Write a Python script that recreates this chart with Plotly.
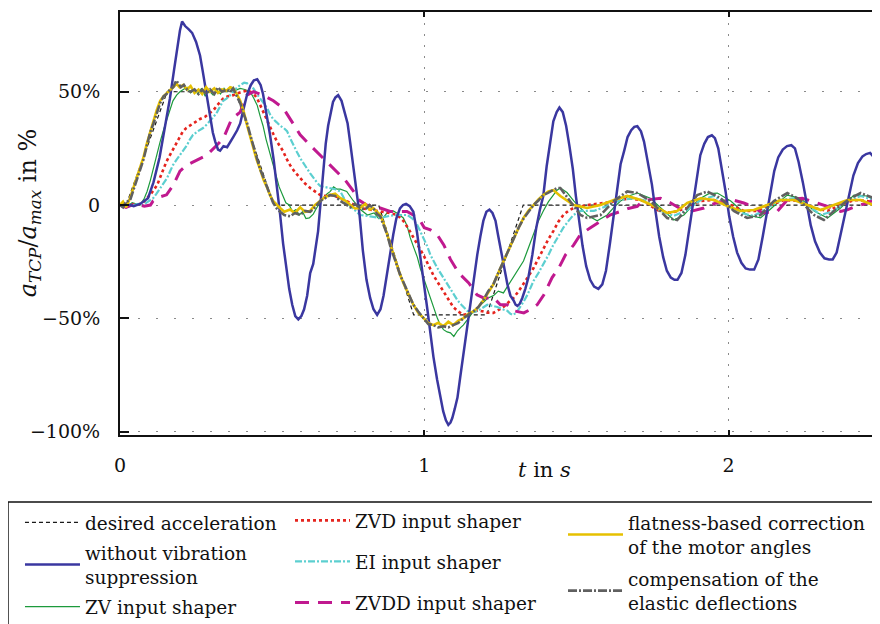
import plotly.graph_objects as go

# ---------------- data (time in s, acceleration in % of a_max) ----------------
desired_t = [0, 0.02, 0.155, 0.38, 0.505, 0.85, 0.965, 1.205, 1.325, 2.5]
desired_v = [0, 0, 50, 50, 0, 0, -48.5, -48.5, 0, 0]

without_t = [0.000, 0.020, 0.045, 0.066, 0.092, 0.110, 0.130, 0.148, 0.164, 0.178, 0.188, 0.197, 0.204, 0.214,
             0.226, 0.237, 0.250, 0.263, 0.272, 0.280, 0.288, 0.296, 0.305, 0.313, 0.322, 0.329, 0.340, 0.352,
             0.362, 0.372, 0.385, 0.395, 0.407, 0.418, 0.430, 0.440, 0.451, 0.462, 0.470, 0.481, 0.493, 0.505,
             0.516, 0.526, 0.536, 0.546, 0.556, 0.566, 0.576, 0.586, 0.596, 0.605, 0.615, 0.625, 0.635, 0.651,
             0.660, 0.668, 0.676, 0.684, 0.692, 0.700, 0.708, 0.717, 0.728, 0.738, 0.748, 0.757, 0.767, 0.777,
             0.787, 0.798, 0.810, 0.822, 0.833, 0.845, 0.856, 0.866, 0.877, 0.888, 0.898, 0.908, 0.920, 0.930,
             0.940, 0.952, 0.964, 0.976, 0.987, 0.998, 1.010, 1.020, 1.030, 1.042, 1.053, 1.062, 1.071, 1.079,
             1.086, 1.092, 1.100, 1.109, 1.118, 1.128, 1.139, 1.151, 1.162, 1.174, 1.184, 1.194, 1.204, 1.214,
             1.224, 1.234, 1.242, 1.250, 1.262, 1.273, 1.283, 1.293, 1.300, 1.306, 1.314, 1.322, 1.332, 1.342,
             1.355, 1.368, 1.380, 1.391, 1.402, 1.414, 1.424, 1.435, 1.444, 1.455, 1.466, 1.477, 1.488, 1.498,
             1.508, 1.520, 1.532, 1.545, 1.558, 1.572, 1.585, 1.597, 1.610, 1.622, 1.633, 1.645, 1.657, 1.668,
             1.680, 1.690, 1.700, 1.712, 1.722, 1.735, 1.748, 1.760, 1.772, 1.785, 1.797, 1.810, 1.822, 1.832,
             1.845, 1.858, 1.870, 1.882, 1.895, 1.907, 1.920, 1.932, 1.945, 1.955, 1.966, 1.978, 1.990, 2.002,
             2.015, 2.028, 2.042, 2.056, 2.070, 2.084, 2.098, 2.112, 2.125, 2.138, 2.150, 2.163, 2.178, 2.192,
             2.206, 2.218, 2.230, 2.244, 2.258, 2.270, 2.284, 2.300, 2.315, 2.330, 2.342, 2.355, 2.368, 2.382,
             2.396, 2.410, 2.425, 2.440, 2.452, 2.465, 2.478, 2.490, 2.500]
without_v = [0, 0.5, -0.5, 0.5, 3, 10, 21, 34, 47, 60, 69, 77, 81, 79,
             77.5, 76, 72, 66, 59, 52, 45, 38, 32, 28, 24.5, 24, 26, 25.5,
             28, 30, 33, 36, 43, 49, 53, 55, 55.5, 53, 49, 41, 31, 20,
             8, -4, -17, -28, -37, -44, -49, -50.5, -49, -46, -40, -30, -26, -11.5,
             2, 17, 27, 35, 41, 45.5, 47.5, 48.5, 46, 41, 36, 27, 17, 7,
             -4, -20, -33, -41, -46, -48.5, -46, -40, -30, -21, -13, -6, -1.5, 0,
             0.5, -0.5, -3, -12, -22, -34, -46, -57, -67, -77, -85, -91, -95, -97,
             -96, -94, -90, -85, -76, -66, -55, -44, -33, -22, -14, -7, -3, -2,
             -3.5, -7, -13, -19, -27, -35, -40, -42, -44, -44.5, -43.5, -41, -37, -32,
             -22, -10, -2, 4, 17, 29, 37, 41, 43, 41, 35, 26, 16, 4,
             -7, -18, -27, -33, -36, -37, -35, -29, -17, -5, 8, 18, 24, 30,
             33, 34.5, 34.8, 32.5, 28, 19, 9, -3, -14, -23, -29, -32, -33, -33,
             -30, -22, -11, 1, 13, 22, 27, 30, 30.8, 29.5, 25, 16, 6, -5,
             -14, -21, -25.5, -28, -28.5, -28.5, -24, -14, -4, 7, 15, 21, 24.5, 26,
             26.4, 25, 19, 10, 0, -9, -16, -21, -23.5, -24, -24, -21, -13, -4,
             5, 13, 18.5, 21.5, 22.5, 23, 21, 18, 15]

zv_t = [0.000, 0.020, 0.040, 0.066, 0.080, 0.089, 0.100, 0.109, 0.120, 0.132, 0.145, 0.155, 0.165, 0.174,
        0.186, 0.197, 0.208, 0.220, 0.232, 0.244, 0.256, 0.268, 0.280, 0.292, 0.306, 0.318, 0.330, 0.342,
        0.352, 0.365, 0.378, 0.395, 0.410, 0.428, 0.440, 0.451, 0.461, 0.470, 0.480, 0.490, 0.502, 0.513,
        0.523, 0.533, 0.545, 0.556, 0.567, 0.578, 0.589, 0.600, 0.611, 0.622, 0.635, 0.646, 0.658, 0.670,
        0.681, 0.691, 0.702, 0.713, 0.724, 0.745, 0.766, 0.790, 0.813, 0.835, 0.850, 0.865, 0.880, 0.898,
        0.915, 0.931, 0.943, 0.954, 0.966, 0.977, 0.987, 0.997, 1.008, 1.020, 1.031, 1.043, 1.053, 1.063,
        1.075, 1.086, 1.097, 1.109, 1.120, 1.128, 1.145, 1.161, 1.178, 1.194, 1.210, 1.227, 1.243, 1.260,
        1.277, 1.293, 1.310, 1.326, 1.342, 1.359, 1.375, 1.391, 1.408, 1.424, 1.436, 1.447, 1.469, 1.491,
        1.513, 1.535, 1.568, 1.601, 1.623, 1.645, 1.672, 1.700, 1.743, 1.787, 1.820, 1.853, 1.880, 1.908,
        1.935, 1.963, 2.007, 2.035, 2.061, 2.105, 2.149, 2.193, 2.237, 2.281, 2.325, 2.368, 2.412, 2.456, 2.500]
zv_v = [0, -1, 1, 0, 3, 6, 11, 16, 22, 28, 34, 38, 43, 46,
        48.5, 50, 51, 52, 49.5, 51, 49, 51.5, 48, 50.5, 48.5, 51, 49, 51.5,
        50, 52, 50.5, 51.5, 51, 50, 47, 44, 39, 35, 29, 23.8, 18, 13,
        8, 4.4, 1, 0, -3, -2, -4.4, -3, -6, -5.7, -4, -1.3, 1, 3.5,
        5, 6, 8, 7, 7, 6, 2, -2, -4.4, -3.5, -6, -5.7, -3, -2.6,
        -4, -5.7, -9, -14.5, -19, -23, -28, -32, -37, -41, -46, -50, -53, -55,
        -56, -56.4, -58, -55.5, -54, -53, -50, -47, -45, -43, -41, -40, -38, -38.8,
        -35, -32, -28, -24.7, -19, -13, -7, -2.6, 1.5, 4.4, 6.5, 7.5, 5.5, 1.8,
        -1.5, -4.4, -7, -4.4, -1, 1.8, 4, 5.3, 3, -2.6, -6.6, -4.4, -0.5, 3,
        5, 5.3, 1.8, -1.5, -4.4, -5.7, -0.4, 4.4, 3, -2.6, -5.7, -1.3, 4.4, 4, 0]

zvd_t = [0.000, 0.030, 0.056, 0.075, 0.089, 0.105, 0.122, 0.131, 0.141, 0.152, 0.164, 0.176, 0.188, 0.197,
         0.207, 0.218, 0.230, 0.245, 0.263, 0.280, 0.296, 0.308, 0.319, 0.329, 0.339, 0.355, 0.372, 0.390,
         0.405, 0.418, 0.428, 0.440, 0.451, 0.461, 0.470, 0.481, 0.493, 0.505, 0.516, 0.526, 0.536, 0.547,
         0.559, 0.575, 0.592, 0.608, 0.625, 0.640, 0.658, 0.675, 0.691, 0.707, 0.724, 0.757, 0.789, 0.822,
         0.855, 0.885, 0.911, 0.921, 0.931, 0.948, 0.964, 0.980, 0.997, 1.013, 1.030, 1.046, 1.063, 1.079,
         1.095, 1.112, 1.128, 1.145, 1.161, 1.178, 1.194, 1.210, 1.227, 1.243, 1.260, 1.276, 1.293, 1.310,
         1.326, 1.342, 1.359, 1.375, 1.391, 1.408, 1.424, 1.440, 1.457, 1.474, 1.491, 1.535, 1.590, 1.634,
         1.678, 1.721, 1.765, 1.809, 1.864, 1.908, 1.952, 2.007, 2.050, 2.094, 2.138, 2.182, 2.237, 2.281,
         2.325, 2.368, 2.412, 2.456, 2.500]
zvd_v = [0, 0.5, 0, 1, 3, 5.5, 8.8, 12, 16, 19, 22, 25, 28, 30.5,
         32.6, 34, 35, 36.5, 38, 39, 40.5, 42, 44, 45.5, 47, 48, 48.5, 49.5,
         50, 50.5, 50, 49, 47, 44, 41, 37.5, 34, 31, 28, 26, 23.8, 20.5,
         17.6, 14.5, 11.9, 9.5, 7.5, 6, 4.4, 4, 4.4, 4, 3, 1, -1.3, -2,
         -2.6, -3.5, -4.4, -5.5, -7, -10.5, -14.5, -18, -22, -26.5, -31, -34.5, -38, -41.5,
         -45, -47, -48.5, -48, -47, -46.5, -47, -47.5, -47.6, -46.5, -45, -43, -41, -38,
         -35, -31.5, -27.8, -23.5, -19, -15, -11.5, -7.5, -4.4, -2.5, -1.3, 0, 0.9, 1.8,
         3, 1.8, -2.2, -3.5, -1.3, 1.8, 2.2, 0, -2.6, -2.6, 0, 2.2, 1.8, -1.3,
         -2.6, 0, 2.2, 1.8, 0]

ei_t = [0.000, 0.030, 0.060, 0.076, 0.092, 0.109, 0.120, 0.132, 0.143, 0.155, 0.165, 0.174, 0.186, 0.197,
        0.208, 0.220, 0.230, 0.240, 0.255, 0.273, 0.285, 0.296, 0.308, 0.319, 0.329, 0.339, 0.350, 0.362,
        0.378, 0.395, 0.408, 0.418, 0.428, 0.438, 0.450, 0.461, 0.472, 0.484, 0.493, 0.503, 0.515, 0.526,
        0.538, 0.549, 0.559, 0.569, 0.581, 0.592, 0.604, 0.615, 0.625, 0.635, 0.647, 0.658, 0.675, 0.691,
        0.707, 0.724, 0.740, 0.757, 0.789, 0.822, 0.855, 0.885, 0.911, 0.944, 0.961, 0.977, 0.987, 0.997,
        1.009, 1.020, 1.031, 1.043, 1.060, 1.076, 1.092, 1.109, 1.125, 1.141, 1.158, 1.174, 1.190, 1.207,
        1.224, 1.240, 1.257, 1.273, 1.283, 1.293, 1.305, 1.316, 1.327, 1.339, 1.349, 1.359, 1.375, 1.391,
        1.408, 1.424, 1.440, 1.457, 1.474, 1.490, 1.513, 1.557, 1.601, 1.645, 1.689, 1.732, 1.776, 1.820,
        1.864, 1.908, 1.952, 1.996, 2.039, 2.083, 2.127, 2.171, 2.215, 2.259, 2.303, 2.346, 2.390, 2.434,
        2.478, 2.500]
ei_v = [0, -0.5, 0.5, 0, 1.5, 3, 5, 7.5, 9.5, 12, 15, 17.6, 20, 22,
        24, 26.4, 29, 31, 32.5, 34, 35.5, 37, 39, 41, 43.5, 46, 47, 48.5,
        51, 53, 54, 53.7, 52.5, 51.5, 49, 47, 45, 42.7, 40, 38, 36.5, 35,
        34, 32.6, 29.5, 26.4, 23.5, 20.7, 18, 16, 14, 12, 10, 8.4, 8, 7.5,
        7, 6, 2, -0.5, -4.4, -5, -5.7, -4.8, -4.4, -4.4, -6, -8.8, -11.5, -14.5,
        -18, -22, -25, -27.8, -31.5, -35, -38.5, -42, -44.5, -46.7, -47.5, -46.7, -45.5, -44,
        -44.5, -45, -46, -46.7, -48, -48.5, -47, -45, -42.5, -39.6, -36.5, -33.5, -30, -26.4,
        -22, -17.6, -14, -10, -7, -4.4, -2.6, -2.6, -0.4, 2.2, 3, 1.8, -2.6, -4.8,
        -2.2, 2.2, 4, 0, -3.5, -4.8, -1.3, 2.2, 3, 0, -4.4, -2.6, 1.8, 4,
        2.2, 0]

zvdd_t = [0.000, 0.020, 0.050, 0.080, 0.100, 0.109, 0.130, 0.153, 0.175, 0.197, 0.219, 0.241, 0.263, 0.285,
          0.318, 0.340, 0.367, 0.395, 0.417, 0.439, 0.471, 0.504, 0.537, 0.559, 0.592, 0.625, 0.658, 0.691,
          0.724, 0.740, 0.767, 0.784, 0.810, 0.855, 0.888, 0.910, 0.943, 0.965, 0.987, 1.000, 1.020, 1.042,
          1.064, 1.086, 1.113, 1.146, 1.173, 1.195, 1.228, 1.250, 1.272, 1.294, 1.327, 1.350, 1.371, 1.393,
          1.420, 1.442, 1.464, 1.491, 1.513, 1.546, 1.580, 1.612, 1.645, 1.670, 1.700, 1.716, 1.745, 1.776,
          1.810, 1.840, 1.875, 1.919, 1.950, 1.979, 2.012, 2.050, 2.078, 2.111, 2.160, 2.193, 2.242, 2.292,
          2.325, 2.368, 2.390, 2.420, 2.456, 2.478, 2.500]
zvdd_v = [0, -1, 0.5, -0.5, 0, 1.8, 3.5, 4.5, 8.8, 15, 17.6, 19, 20.7, 22,
          26.4, 29.5, 38, 41, 48.5, 50, 48.5, 46, 42.7, 38, 31, 26.4, 22, 17.6,
          13, 11, 6.2, 2.3, 0, -1.3, -2.8, -2.8, -2.8, -4.5, -7, -10, -11, -13,
          -17.6, -24, -30, -34.4, -39.6, -41, -41, -44, -44, -46.7, -47.6, -46, -44, -39.6,
          -32, -27.8, -22, -17.6, -13, -10, -7, -4.3, -2.8, -1.5, -0.6, 1.6, 2.5, 3,
          0.9, -1.5, -2.8, -1.3, 0.5, 1.6, 2.3, 0.9, -0.6, -3.5, -2.8, 2.3, 3, 0.9,
          -0.6, -2.8, -2.1, -0.5, 0.9, 2.3, 2.5]

flat_t = [0.000, 0.010, 0.020, 0.033, 0.045, 0.055, 0.066, 0.077, 0.088, 0.099, 0.110, 0.121, 0.132, 0.143,
          0.153, 0.164, 0.175, 0.186, 0.196, 0.208, 0.220, 0.232, 0.245, 0.258, 0.270, 0.283, 0.296, 0.310,
          0.322, 0.335, 0.350, 0.362, 0.372, 0.384, 0.395, 0.407, 0.418, 0.428, 0.438, 0.449, 0.460, 0.472,
          0.484, 0.494, 0.503, 0.515, 0.526, 0.540, 0.559, 0.575, 0.592, 0.608, 0.625, 0.641, 0.658, 0.674,
          0.690, 0.707, 0.724, 0.740, 0.757, 0.772, 0.789, 0.806, 0.820, 0.832, 0.845, 0.855, 0.866, 0.878,
          0.888, 0.898, 0.910, 0.921, 0.933, 0.944, 0.954, 0.964, 0.980, 0.997, 1.013, 1.030, 1.046, 1.063,
          1.079, 1.095, 1.112, 1.128, 1.145, 1.161, 1.178, 1.194, 1.210, 1.227, 1.243, 1.260, 1.276, 1.293,
          1.310, 1.326, 1.342, 1.359, 1.375, 1.391, 1.408, 1.424, 1.447, 1.491, 1.535, 1.579, 1.623, 1.667,
          1.711, 1.754, 1.798, 1.831, 1.864, 1.908, 1.952, 1.996, 2.039, 2.083, 2.127, 2.171, 2.215, 2.259,
          2.303, 2.346, 2.390, 2.434, 2.478, 2.500]
flat_v = [0, 1.5, -1, 3, 8, 12, 16, 21, 27, 32.6, 37, 42, 46, 48,
          49.5, 50.7, 52, 53.5, 52, 53, 51, 52.5, 49.5, 51, 49, 52, 50, 51.5,
          49.5, 51, 50.5, 52, 51.5, 49, 46, 41, 35, 30, 25, 20, 16, 11,
          7.5, 4, 1.8, 0, -1.3, -3, -2, -3.5, -1, -3, -2.6, 0, 1.8, 3.5,
          4.4, 5, 3, 2, 0, -1.5, -1.3, 0.5, -2, -1.3, -3, -4.4, -8, -13,
          -17.5, -22, -27, -31, -35, -38, -41, -44, -47.5, -50, -52, -53, -52, -53.5,
          -51.5, -53, -51, -50, -48, -47, -45, -42, -38.5, -35, -30, -25, -20, -14.5,
          -10, -5.7, -2.5, 0, 2.5, 4.4, 6, 6.6, 4, 0, -1.3, 0, 2.2, 4,
          2.2, -0.4, -3.5, -2.6, 0.9, 3, 2.2, -0.4, -2.6, -2.2, 0, 2.2, 2.2, 0,
          -2.2, 0, 2.2, 2.2, 0, -1.3]

comp_t = [0.000, 0.010, 0.020, 0.033, 0.045, 0.055, 0.066, 0.077, 0.088, 0.099, 0.110, 0.121, 0.132, 0.143,
          0.153, 0.164, 0.175, 0.185, 0.191, 0.200, 0.210, 0.220, 0.232, 0.245, 0.258, 0.270, 0.283, 0.296,
          0.310, 0.322, 0.335, 0.350, 0.362, 0.372, 0.384, 0.395, 0.407, 0.418, 0.428, 0.438, 0.449, 0.460,
          0.472, 0.484, 0.494, 0.503, 0.515, 0.526, 0.540, 0.559, 0.575, 0.592, 0.608, 0.625, 0.641, 0.658,
          0.674, 0.690, 0.707, 0.724, 0.740, 0.757, 0.772, 0.789, 0.806, 0.820, 0.832, 0.845, 0.855, 0.866,
          0.878, 0.888, 0.898, 0.910, 0.921, 0.933, 0.944, 0.954, 0.964, 0.980, 0.997, 1.013, 1.030, 1.046,
          1.063, 1.079, 1.095, 1.112, 1.128, 1.145, 1.161, 1.178, 1.194, 1.210, 1.227, 1.243, 1.260, 1.276,
          1.293, 1.310, 1.326, 1.342, 1.359, 1.375, 1.391, 1.408, 1.424, 1.436, 1.447, 1.480, 1.513, 1.535,
          1.579, 1.623, 1.667, 1.700, 1.743, 1.798, 1.831, 1.864, 1.897, 1.930, 1.974, 2.017, 2.061, 2.105,
          2.149, 2.193, 2.226, 2.281, 2.313, 2.357, 2.401, 2.434, 2.478, 2.500]
comp_v = [0, -1, 1.5, 2, 7, 11, 16, 20, 26, 32, 36, 41, 45, 48,
          49, 51, 52, 55, 54, 52, 53, 51, 50, 51, 49, 51, 49, 51,
          49, 52, 50, 51, 50, 51.5, 48, 45, 40, 36, 31, 26, 21, 16,
          12, 8, 4, 1, -1.5, -3, -4.4, -5, -3.5, -4.4, -2.6, -3, -1, 1.8,
          3, 4.4, 4, 1.8, 0.5, -1, 0.5, -1.3, -2, 0, -1.3, -4, -5, -8.5,
          -13, -18, -22, -26, -31, -34.5, -38, -41, -44, -47, -50, -52.5, -53, -54,
          -53.5, -54, -53, -52, -50, -48.5, -47, -45, -42, -38, -35, -30, -25, -19.5,
          -14.5, -10, -6, -3, 0, 2, 4.4, 5.5, 6.6, 7.5, 7.5, 1.8, -4.4, -5.7,
          -4.4, 1.8, 6, 5.3, 1.8, -5.7, -6.6, -1.3, 4.4, 6, 3, -2.6, -5.7, -4.4,
          1.8, 5.3, 3, -4.4, -6.6, -1.3, 3, 5.3, 3, 1.8]

y_tick_vals = [-100, -50, 0, 50]
y_tick_text = ["\u2212100%", "\u221250%", "0", "50%"]
x_tick_vals = [0, 1, 2]
x_tick_text = ["0", "1", "2"]

# ---------------- figure ----------------
SERIF = "DejaVu Serif"
fig = go.Figure()

series = [
    # name, t, v, color, width, dash, legend, rank
    ("desired acceleration", desired_t, desired_v, "#1a1a1a", 1.2, "4px,3px", "legend", 1),
    ("ZV input shaper", zv_t, zv_v, "#1c9a3c", 1.2, "solid", "legend", 3),
    ("ZVD input shaper", zvd_t, zvd_v, "#e5241e", 2.6, "3px,3px", "legend2", 1),
    ("EI input shaper", ei_t, ei_v, "#5ccfd0", 2.2, "7px,2px,2px,2px", "legend2", 2),
    ("ZVDD input shaper", zvdd_t, zvdd_v, "#c0198f", 3.0, "14px,9px", "legend2", 3),
    ("without vibration<br>suppression", without_t, without_v, "#3a37a0", 2.5, "solid", "legend", 2),
    ("flatness-based correction<br>of the motor angles", flat_t, flat_v, "#e6c000", 2.6, "solid", "legend3", 1),
    ("compensation of the<br>elastic deflections", comp_t, comp_v, "#606060", 2.6, "9px,2px,2px,2px", "legend3", 2),
]
for name, t, v, col, w, dash, lg, rank in series:
    fig.add_trace(go.Scatter(x=t, y=v, mode="lines", name=name, legend=lg, legendrank=rank,
                             legendgroup=name,
                             line=dict(color=col, width=w, dash=dash), hoverinfo="skip"))

# a one-point helper trace so that the right-hand tick axis is drawn (a single point draws no line)
fig.add_trace(go.Scatter(x=[0], y=[0], yaxis="y2", mode="lines", showlegend=False,
                         line=dict(width=0), hoverinfo="skip"))

LEG_FONT = dict(family=SERIF, size=18.5, color="#111")


def leg(x, y, gap):
    return dict(orientation="v", x=x, y=y, xanchor="left", yanchor="top",
                itemwidth=55, font=LEG_FONT,
                bgcolor="rgba(0,0,0,0)", borderwidth=0, valign="middle",
                tracegroupgap=gap, itemclick=False, itemdoubleclick=False)


fig.update_layout(
    width=872, height=616,
    margin=dict(l=112, r=0, t=4, b=189, autoexpand=False),
    paper_bgcolor="white", plot_bgcolor="white",
    font=dict(family=SERIF, size=19, color="#111"),
    showlegend=True,
    legend=leg(-0.1316, -0.163, 3),
    legend2=leg(0.2237, -0.158, 14),
    legend3=leg(0.5829, -0.163, 5),
    xaxis=dict(range=[0, 2.4975], tickvals=x_tick_vals, ticktext=x_tick_text,
               showline=True, linecolor="#111", linewidth=2, mirror="ticks",
               ticks="inside", ticklen=5, tickwidth=2, tickcolor="#111",
               showgrid=True, gridcolor="#8a8a8a", gridwidth=1.4, griddash="1.5px,9.5px",
               zeroline=False, ticklabelstandoff=12, automargin=False,
               tickfont=dict(family=SERIF, size=19, color="#111")),
    yaxis=dict(range=[-101.5, 85.2], tickvals=y_tick_vals, ticktext=y_tick_text,
               showline=True, linecolor="#111", linewidth=2, mirror=False,
               ticks="inside", ticklen=9, tickwidth=1.6, tickcolor="#111",
               showgrid=True, gridcolor="#8a8a8a", gridwidth=1.4, griddash="1.5px,16.5px",
               zeroline=False, ticklabelstandoff=14, automargin=False,
               tickfont=dict(family=SERIF, size=19, color="#111")),
    yaxis2=dict(overlaying="y", side="right", anchor="x", range=[-2.804, 2.398],
                tickmode="linear", tick0=0, dtick=1, ticks="inside", ticklen=7, tickwidth=2,
                tickcolor="#6a6a6a", showticklabels=False, showgrid=False, zeroline=False,
                showline=False, automargin=False),
    shapes=[dict(type="rect", xref="paper", yref="paper",
                 x0=-0.1474, x1=1.1, y0=-0.55, y1=-0.1584,
                 line=dict(color="#111", width=1.5), fillcolor="rgba(0,0,0,0)", layer="above")],
    annotations=[
        dict(text="<i>t</i> in <i>s</i>", xref="paper", yref="paper", x=0.559, y=-0.083,
             xanchor="center", yanchor="middle", showarrow=False,
             font=dict(family=SERIF, size=21, color="#111")),
        dict(text="<i>a</i><sub><i>TCP</i></sub>/<i>a</i><sub><i>max</i></sub> in %",
             xref="paper", yref="paper", x=-0.118, y=0.525, textangle=-90,
             xanchor="center", yanchor="middle", showarrow=False,
             font=dict(family=SERIF, size=24, color="#111")),
    ],
)

fig.write_html("out.html")
